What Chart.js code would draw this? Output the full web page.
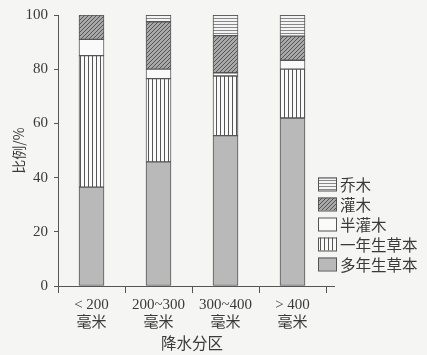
<!DOCTYPE html>
<html>
<head>
<meta charset="utf-8">
<script src="https://cdn.jsdelivr.net/npm/chart.js@4.4.0/dist/chart.umd.min.js"></script>
<style>
  html, body { margin: 0; padding: 0; background: #f5f5f3; }
  #wrap { width: 427px; height: 355px; position: relative; }
</style>
</head>
<body>
<div id="wrap"><canvas id="chart"></canvas></div>
<script>
// 降水分区
const categories = [['< 200', '毫米'], ['200~300', '毫米'], ['300~400', '毫米'], ['> 400', '毫米']];

// 各生活型比例 (%)
const perennialHerb = [36.5, 45.8, 55.5, 62.0];
const annualHerb = [48.5, 30.7, 22.0, 18.0];
const semiShrub = [6.0, 3.5, 1.2, 3.3];
const shrub = [9.0, 17.5, 13.7, 8.9];
const tree = [0, 2.5, 7.6, 7.8];

const yTicks = [0, 20, 40, 60, 80, 100];

const INK = '#3a3a3a';
const LINE = '#555';
const SERIF = '"Liberation Serif", "Noto Sans CJK SC", serif';

// 패턴 만들기
const makePattern = function(w, h, draw) {
    const c = document.createElement('canvas');
    c.width = w; c.height = h;
    const g = c.getContext('2d');
    draw(g, w, h);
    return c.getContext('2d').createPattern(c, 'repeat');
};

const vertLines = makePattern(4, 4, function(g, w, h) {
    g.fillStyle = '#fafafa'; g.fillRect(0, 0, w, h);
    g.fillStyle = '#555'; g.fillRect(0, 0, 1, h);
});
const diagLines = makePattern(4, 4, function(g, w, h) {
    g.fillStyle = '#a8a8a8'; g.fillRect(0, 0, w, h);
    g.strokeStyle = '#555'; g.lineWidth = 1;
    g.beginPath();
    g.moveTo(-1, 5); g.lineTo(5, -1);
    g.moveTo(-1, 1); g.lineTo(1, -1);
    g.moveTo(3, 5); g.lineTo(5, 3);
    g.stroke();
});
const horizLines = makePattern(2, 3, function(g, w, h) {
    g.fillStyle = '#f4f4f4'; g.fillRect(0, 0, w, h);
    g.fillStyle = '#888'; g.fillRect(0, 0, w, 1);
});

const barStyle = {
    borderColor: LINE,
    borderWidth: 1,
    borderSkipped: false,
    barThickness: 25
};

// 범례 (차트 영역 오른쪽)
const legendPlugin = {
    id: 'sideLegend',
    afterDraw: function(chart) {
        const ctx = chart.ctx;
        const sets = chart.data.datasets.slice().reverse();
        ctx.save();
        sets.forEach(function(ds, i) {
            const y = 184 + i * 20;
            ctx.fillStyle = ds.backgroundColor;
            ctx.fillRect(318, y - 6.5, 19, 13);
            ctx.strokeStyle = LINE;
            ctx.lineWidth = 1;
            ctx.strokeRect(318.5, y - 6, 18, 13);
            ctx.fillStyle = INK;
            ctx.font = '15.5px "Noto Sans CJK SC"';
            ctx.textBaseline = 'middle';
            ctx.fillText(ds.label, 340, y + 1);
        });
        // x축 선 조금 연장
        const a = chart.chartArea;
        const yb = chart.scales.y.getPixelForValue(0);
        ctx.strokeStyle = LINE;
        ctx.beginPath();
        ctx.moveTo(a.right, Math.round(yb) + 0.5);
        ctx.lineTo(a.right + 9, Math.round(yb) + 0.5);
        ctx.stroke();
        ctx.restore();
    }
};

new Chart(document.getElementById('chart'), {
    type: 'bar',
    data: {
        labels: categories,
        datasets: [
            Object.assign({ label: '多年生草本', data: perennialHerb, backgroundColor: '#b9b9b9' }, barStyle),
            Object.assign({ label: '一年生草本', data: annualHerb, backgroundColor: vertLines }, barStyle),
            Object.assign({ label: '半灌木', data: semiShrub, backgroundColor: '#fafafa' }, barStyle),
            Object.assign({ label: '灌木', data: shrub, backgroundColor: diagLines }, barStyle),
            Object.assign({ label: '乔木', data: tree, backgroundColor: horizLines }, barStyle)
        ]
    },
    options: {
        animation: { duration: 0 },
        responsive: true,
        maintainAspectRatio: false,
        layout: { padding: { top: 15, right: 101, left: 0, bottom: 0 } },
        plugins: { legend: { display: false }, tooltip: { enabled: false } },
        scales: {
            x: {
                stacked: true,
                afterFit: function(s) { s.height = 69; },
                grid: { drawOnChartArea: false, drawTicks: true, tickLength: 7, color: LINE, offset: true },
                border: { color: LINE, width: 1 },
                ticks: { color: INK, padding: 3, font: { family: SERIF, size: 15 } },
                title: { display: true, text: '降水分区', color: INK, padding: { top: 0, bottom: 3 }, font: { family: '"Noto Sans CJK SC"', size: 15.5 } }
            },
            y: {
                stacked: true,
                min: 0, max: 100,
                afterFit: function(s) { s.width = 58; },
                afterBuildTicks: function(s) { s.ticks = yTicks.map(function(v) { return { value: v }; }); },
                grid: { drawOnChartArea: false, drawTicks: true, tickLength: 4, color: LINE },
                border: { color: LINE, width: 1 },
                ticks: { color: INK, padding: 6, font: { family: SERIF, size: 15 } },
                title: { display: true, text: '比例/%', color: INK, padding: { top: 10, bottom: 0 }, font: { family: '"Noto Sans CJK SC"', size: 14 } }
            }
        }
    },
    plugins: [legendPlugin]
});
</script>
</body>
</html>
